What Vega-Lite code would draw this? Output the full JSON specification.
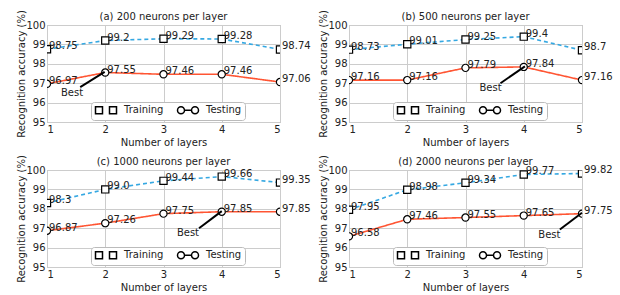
{
  "$schema": "https://vega.github.io/schema/vega-lite/v6.json",
  "padding": {"left": 16, "top": 9, "right": 0, "bottom": 0},
  "bounds": "flush",
  "columns": 2,
  "spacing": {"row": 48, "column": 69},
  "config": {
    "font": "DejaVu Sans",
    "view": {"stroke": "#aaaaaa", "strokeWidth": 1},
    "axis": {"grid": true, "gridColor": "#cccccc", "gridWidth": 1, "domain": false, "ticks": false, "labelFontSize": 10, "labelColor": "#222222", "titleFontSize": 10, "titleFontWeight": "normal", "titleColor": "#222222", "labelPadding": 2},
    "axisX": {"titlePadding": 3},
    "axisY": {"titlePadding": -1},
    "title": {"fontSize": 10, "fontWeight": "normal", "color": "#222222", "offset": -12},
    "legend": {"orient": "none", "legendX": 44, "legendY": 77, "direction": "horizontal", "title": null, "symbolSize": 49, "symbolOffset": 7, "labelOffset": 13, "padding": 3, "strokeColor": "#bbbbbb", "cornerRadius": 3, "fillColor": "white", "labelFontSize": 10, "labelColor": "#222222", "columnPadding": 10}
  },
  "resolve": {"legend": {"shape": "independent"}},
  "datasets": {
    "main": [
      {"panel": "a", "layers": 1, "series": "Training", "acc": 98.75, "label": "98.75"},
      {"panel": "a", "layers": 2, "series": "Training", "acc": 99.2, "label": "99.2"},
      {"panel": "a", "layers": 3, "series": "Training", "acc": 99.29, "label": "99.29"},
      {"panel": "a", "layers": 4, "series": "Training", "acc": 99.28, "label": "99.28"},
      {"panel": "a", "layers": 5, "series": "Training", "acc": 98.74, "label": "98.74"},
      {"panel": "a", "layers": 1, "series": "Testing", "acc": 96.97, "label": "96.97"},
      {"panel": "a", "layers": 2, "series": "Testing", "acc": 97.55, "label": "97.55"},
      {"panel": "a", "layers": 3, "series": "Testing", "acc": 97.46, "label": "97.46"},
      {"panel": "a", "layers": 4, "series": "Testing", "acc": 97.46, "label": "97.46"},
      {"panel": "a", "layers": 5, "series": "Testing", "acc": 97.06, "label": "97.06"},
      {"panel": "b", "layers": 1, "series": "Training", "acc": 98.73, "label": "98.73"},
      {"panel": "b", "layers": 2, "series": "Training", "acc": 99.01, "label": "99.01"},
      {"panel": "b", "layers": 3, "series": "Training", "acc": 99.25, "label": "99.25"},
      {"panel": "b", "layers": 4, "series": "Training", "acc": 99.4, "label": "99.4"},
      {"panel": "b", "layers": 5, "series": "Training", "acc": 98.7, "label": "98.7"},
      {"panel": "b", "layers": 1, "series": "Testing", "acc": 97.16, "label": "97.16"},
      {"panel": "b", "layers": 2, "series": "Testing", "acc": 97.16, "label": "97.16"},
      {"panel": "b", "layers": 3, "series": "Testing", "acc": 97.79, "label": "97.79"},
      {"panel": "b", "layers": 4, "series": "Testing", "acc": 97.84, "label": "97.84"},
      {"panel": "b", "layers": 5, "series": "Testing", "acc": 97.16, "label": "97.16"},
      {"panel": "c", "layers": 1, "series": "Training", "acc": 98.3, "label": "98.3"},
      {"panel": "c", "layers": 2, "series": "Training", "acc": 99.0, "label": "99.0"},
      {"panel": "c", "layers": 3, "series": "Training", "acc": 99.44, "label": "99.44"},
      {"panel": "c", "layers": 4, "series": "Training", "acc": 99.66, "label": "99.66"},
      {"panel": "c", "layers": 5, "series": "Training", "acc": 99.35, "label": "99.35"},
      {"panel": "c", "layers": 1, "series": "Testing", "acc": 96.87, "label": "96.87"},
      {"panel": "c", "layers": 2, "series": "Testing", "acc": 97.26, "label": "97.26"},
      {"panel": "c", "layers": 3, "series": "Testing", "acc": 97.75, "label": "97.75"},
      {"panel": "c", "layers": 4, "series": "Testing", "acc": 97.85, "label": "97.85"},
      {"panel": "c", "layers": 5, "series": "Testing", "acc": 97.85, "label": "97.85"},
      {"panel": "d", "layers": 1, "series": "Training", "acc": 97.95, "label": "97.95"},
      {"panel": "d", "layers": 2, "series": "Training", "acc": 98.98, "label": "98.98"},
      {"panel": "d", "layers": 3, "series": "Training", "acc": 99.34, "label": "99.34"},
      {"panel": "d", "layers": 4, "series": "Training", "acc": 99.77, "label": "99.77"},
      {"panel": "d", "layers": 5, "series": "Training", "acc": 99.82, "label": "99.82"},
      {"panel": "d", "layers": 1, "series": "Testing", "acc": 96.58, "label": "96.58"},
      {"panel": "d", "layers": 2, "series": "Testing", "acc": 97.46, "label": "97.46"},
      {"panel": "d", "layers": 3, "series": "Testing", "acc": 97.55, "label": "97.55"},
      {"panel": "d", "layers": 4, "series": "Testing", "acc": 97.65, "label": "97.65"},
      {"panel": "d", "layers": 5, "series": "Testing", "acc": 97.75, "label": "97.75"}
    ],
    "ann": [
      {"panel": "a", "tx": 1.43, "ty": 96.47, "x1": 1.57, "y1": 96.8, "x2": 1.99, "y2": 97.58, "text": "Best"},
      {"panel": "b", "tx": 3.43, "ty": 96.76, "x1": 3.6, "y1": 97.0, "x2": 4.02, "y2": 97.87, "text": "Best"},
      {"panel": "c", "tx": 3.42, "ty": 96.76, "x1": 3.61, "y1": 97.0, "x2": 4.0, "y2": 97.88, "text": "Best"},
      {"panel": "d", "tx": 4.44, "ty": 96.64, "x1": 4.62, "y1": 96.93, "x2": 5.0, "y2": 97.8, "text": "Best"}
    ]
  },
  "concat": [
    {
      "title": "(a) 200 neurons per layer",
      "width": 233, "height": 97,
      "encoding": {
        "x": {"field": "layers", "type": "quantitative", "scale": {"domain": [1, 5], "nice": false, "zero": false}, "axis": {"values": [1, 2, 3, 4, 5], "title": "Number of layers", "format": "d"}},
        "y": {"field": "acc", "type": "quantitative", "scale": {"domain": [95, 100], "nice": false, "zero": false}, "axis": {"values": [95, 96, 97, 98, 99, 100], "title": "Recognition accuracy (%)", "format": "d"}}
      },
      "layer": [
        {"data": {"name": "main"}, "transform": [{"filter": "datum.panel === 'a'"}], "mark": {"type": "line", "clip": true, "strokeWidth": 1.6},
         "encoding": {"color": {"field": "series", "type": "nominal", "scale": {"domain": ["Training", "Testing"], "range": ["#35a8e2", "#ff5533"]}, "legend": null},
                      "strokeDash": {"field": "series", "type": "nominal", "scale": {"domain": ["Training", "Testing"], "range": [[4, 3], [1, 0]]}, "legend": null}}},
        {"data": {"name": "main"}, "transform": [{"filter": "datum.panel === 'a' && datum.series === 'Training'"}], "mark": {"type": "point", "shape": "square", "clip": true, "filled": true, "fill": "white", "stroke": "black", "strokeWidth": 1.2, "size": 52, "opacity": 1}, "encoding": {}},
        {"data": {"name": "main"}, "transform": [{"filter": "datum.panel === 'a' && datum.series === 'Testing'"}], "mark": {"type": "point", "shape": "circle", "clip": true, "filled": true, "fill": "white", "stroke": "black", "strokeWidth": 1.2, "size": 52, "opacity": 1}, "encoding": {}},
        {"data": {"name": "main"}, "transform": [{"filter": "datum.panel === 'a'"}], "mark": {"type": "point", "filled": true, "fill": "white", "stroke": "black", "strokeWidth": 1.2, "size": 49, "opacity": 0},
         "encoding": {"shape": {"field": "series", "type": "nominal", "scale": {"domain": ["Training", "Testing"], "range": ["M-3,-1H-1V1H-3Z M1,-1H3V1H1Z", "M-3,0A1,1 0 1,1 -1,0A1,1 0 1,1 -3,0Z M1,0A1,1 0 1,1 3,0A1,1 0 1,1 1,0Z M-1,0H1"]},
           "legend": {"encode": {"symbols": {"update": {"fill": {"value": "white"}, "stroke": {"value": "black"}, "strokeWidth": {"value": 1.2}, "opacity": {"value": 1}, "fillOpacity": {"value": 1}, "strokeOpacity": {"value": 1}}}}}}}},
        {"data": {"name": "main"}, "transform": [{"filter": "datum.panel === 'a'"}], "mark": {"type": "text", "align": "left", "baseline": "middle", "dx": 2, "dy": -3, "fontSize": 10, "color": "#222222"},
         "encoding": {"text": {"field": "label", "type": "nominal"}}},
        {"data": {"name": "ann"}, "transform": [{"filter": "datum.panel === 'a'"}], "mark": {"type": "rule", "color": "black", "strokeWidth": 2},
         "encoding": {"x": {"field": "x1", "type": "quantitative"}, "y": {"field": "y1", "type": "quantitative"}, "x2": {"field": "x2"}, "y2": {"field": "y2"}}},
        {"data": {"name": "ann"}, "transform": [{"filter": "datum.panel === 'a'"}], "mark": {"type": "text", "align": "center", "baseline": "middle", "fontSize": 10, "color": "#222222"},
         "encoding": {"x": {"field": "tx", "type": "quantitative"}, "y": {"field": "ty", "type": "quantitative"}, "text": {"field": "text", "type": "nominal"}}}
      ]
    },
    {
      "title": "(b) 500 neurons per layer",
      "width": 233, "height": 97,
      "encoding": {
        "x": {"field": "layers", "type": "quantitative", "scale": {"domain": [1, 5], "nice": false, "zero": false}, "axis": {"values": [1, 2, 3, 4, 5], "title": "Number of layers", "format": "d"}},
        "y": {"field": "acc", "type": "quantitative", "scale": {"domain": [95, 100], "nice": false, "zero": false}, "axis": {"values": [95, 96, 97, 98, 99, 100], "title": "Recognition accuracy (%)", "format": "d"}}
      },
      "layer": [
        {"data": {"name": "main"}, "transform": [{"filter": "datum.panel === 'b'"}], "mark": {"type": "line", "clip": true, "strokeWidth": 1.6},
         "encoding": {"color": {"field": "series", "type": "nominal", "scale": {"domain": ["Training", "Testing"], "range": ["#35a8e2", "#ff5533"]}, "legend": null},
                      "strokeDash": {"field": "series", "type": "nominal", "scale": {"domain": ["Training", "Testing"], "range": [[4, 3], [1, 0]]}, "legend": null}}},
        {"data": {"name": "main"}, "transform": [{"filter": "datum.panel === 'b' && datum.series === 'Training'"}], "mark": {"type": "point", "shape": "square", "clip": true, "filled": true, "fill": "white", "stroke": "black", "strokeWidth": 1.2, "size": 52, "opacity": 1}, "encoding": {}},
        {"data": {"name": "main"}, "transform": [{"filter": "datum.panel === 'b' && datum.series === 'Testing'"}], "mark": {"type": "point", "shape": "circle", "clip": true, "filled": true, "fill": "white", "stroke": "black", "strokeWidth": 1.2, "size": 52, "opacity": 1}, "encoding": {}},
        {"data": {"name": "main"}, "transform": [{"filter": "datum.panel === 'b'"}], "mark": {"type": "point", "filled": true, "fill": "white", "stroke": "black", "strokeWidth": 1.2, "size": 49, "opacity": 0},
         "encoding": {"shape": {"field": "series", "type": "nominal", "scale": {"domain": ["Training", "Testing"], "range": ["M-3,-1H-1V1H-3Z M1,-1H3V1H1Z", "M-3,0A1,1 0 1,1 -1,0A1,1 0 1,1 -3,0Z M1,0A1,1 0 1,1 3,0A1,1 0 1,1 1,0Z M-1,0H1"]},
           "legend": {"encode": {"symbols": {"update": {"fill": {"value": "white"}, "stroke": {"value": "black"}, "strokeWidth": {"value": 1.2}, "opacity": {"value": 1}, "fillOpacity": {"value": 1}, "strokeOpacity": {"value": 1}}}}}}}},
        {"data": {"name": "main"}, "transform": [{"filter": "datum.panel === 'b'"}], "mark": {"type": "text", "align": "left", "baseline": "middle", "dx": 2, "dy": -3, "fontSize": 10, "color": "#222222"},
         "encoding": {"text": {"field": "label", "type": "nominal"}}},
        {"data": {"name": "ann"}, "transform": [{"filter": "datum.panel === 'b'"}], "mark": {"type": "rule", "color": "black", "strokeWidth": 2},
         "encoding": {"x": {"field": "x1", "type": "quantitative"}, "y": {"field": "y1", "type": "quantitative"}, "x2": {"field": "x2"}, "y2": {"field": "y2"}}},
        {"data": {"name": "ann"}, "transform": [{"filter": "datum.panel === 'b'"}], "mark": {"type": "text", "align": "center", "baseline": "middle", "fontSize": 10, "color": "#222222"},
         "encoding": {"x": {"field": "tx", "type": "quantitative"}, "y": {"field": "ty", "type": "quantitative"}, "text": {"field": "text", "type": "nominal"}}}
      ]
    },
    {
      "title": "(c) 1000 neurons per layer",
      "width": 233, "height": 97,
      "encoding": {
        "x": {"field": "layers", "type": "quantitative", "scale": {"domain": [1, 5], "nice": false, "zero": false}, "axis": {"values": [1, 2, 3, 4, 5], "title": "Number of layers", "format": "d"}},
        "y": {"field": "acc", "type": "quantitative", "scale": {"domain": [95, 100], "nice": false, "zero": false}, "axis": {"values": [95, 96, 97, 98, 99, 100], "title": "Recognition accuracy (%)", "format": "d"}}
      },
      "layer": [
        {"data": {"name": "main"}, "transform": [{"filter": "datum.panel === 'c'"}], "mark": {"type": "line", "clip": true, "strokeWidth": 1.6},
         "encoding": {"color": {"field": "series", "type": "nominal", "scale": {"domain": ["Training", "Testing"], "range": ["#35a8e2", "#ff5533"]}, "legend": null},
                      "strokeDash": {"field": "series", "type": "nominal", "scale": {"domain": ["Training", "Testing"], "range": [[4, 3], [1, 0]]}, "legend": null}}},
        {"data": {"name": "main"}, "transform": [{"filter": "datum.panel === 'c' && datum.series === 'Training'"}], "mark": {"type": "point", "shape": "square", "clip": true, "filled": true, "fill": "white", "stroke": "black", "strokeWidth": 1.2, "size": 52, "opacity": 1}, "encoding": {}},
        {"data": {"name": "main"}, "transform": [{"filter": "datum.panel === 'c' && datum.series === 'Testing'"}], "mark": {"type": "point", "shape": "circle", "clip": true, "filled": true, "fill": "white", "stroke": "black", "strokeWidth": 1.2, "size": 52, "opacity": 1}, "encoding": {}},
        {"data": {"name": "main"}, "transform": [{"filter": "datum.panel === 'c'"}], "mark": {"type": "point", "filled": true, "fill": "white", "stroke": "black", "strokeWidth": 1.2, "size": 49, "opacity": 0},
         "encoding": {"shape": {"field": "series", "type": "nominal", "scale": {"domain": ["Training", "Testing"], "range": ["M-3,-1H-1V1H-3Z M1,-1H3V1H1Z", "M-3,0A1,1 0 1,1 -1,0A1,1 0 1,1 -3,0Z M1,0A1,1 0 1,1 3,0A1,1 0 1,1 1,0Z M-1,0H1"]},
           "legend": {"encode": {"symbols": {"update": {"fill": {"value": "white"}, "stroke": {"value": "black"}, "strokeWidth": {"value": 1.2}, "opacity": {"value": 1}, "fillOpacity": {"value": 1}, "strokeOpacity": {"value": 1}}}}}}}},
        {"data": {"name": "main"}, "transform": [{"filter": "datum.panel === 'c'"}], "mark": {"type": "text", "align": "left", "baseline": "middle", "dx": 2, "dy": -3, "fontSize": 10, "color": "#222222"},
         "encoding": {"text": {"field": "label", "type": "nominal"}}},
        {"data": {"name": "ann"}, "transform": [{"filter": "datum.panel === 'c'"}], "mark": {"type": "rule", "color": "black", "strokeWidth": 2},
         "encoding": {"x": {"field": "x1", "type": "quantitative"}, "y": {"field": "y1", "type": "quantitative"}, "x2": {"field": "x2"}, "y2": {"field": "y2"}}},
        {"data": {"name": "ann"}, "transform": [{"filter": "datum.panel === 'c'"}], "mark": {"type": "text", "align": "center", "baseline": "middle", "fontSize": 10, "color": "#222222"},
         "encoding": {"x": {"field": "tx", "type": "quantitative"}, "y": {"field": "ty", "type": "quantitative"}, "text": {"field": "text", "type": "nominal"}}}
      ]
    },
    {
      "title": "(d) 2000 neurons per layer",
      "width": 233, "height": 97,
      "encoding": {
        "x": {"field": "layers", "type": "quantitative", "scale": {"domain": [1, 5], "nice": false, "zero": false}, "axis": {"values": [1, 2, 3, 4, 5], "title": "Number of layers", "format": "d"}},
        "y": {"field": "acc", "type": "quantitative", "scale": {"domain": [95, 100], "nice": false, "zero": false}, "axis": {"values": [95, 96, 97, 98, 99, 100], "title": "Recognition accuracy (%)", "format": "d"}}
      },
      "layer": [
        {"data": {"name": "main"}, "transform": [{"filter": "datum.panel === 'd'"}], "mark": {"type": "line", "clip": true, "strokeWidth": 1.6},
         "encoding": {"color": {"field": "series", "type": "nominal", "scale": {"domain": ["Training", "Testing"], "range": ["#35a8e2", "#ff5533"]}, "legend": null},
                      "strokeDash": {"field": "series", "type": "nominal", "scale": {"domain": ["Training", "Testing"], "range": [[4, 3], [1, 0]]}, "legend": null}}},
        {"data": {"name": "main"}, "transform": [{"filter": "datum.panel === 'd' && datum.series === 'Training'"}], "mark": {"type": "point", "shape": "square", "clip": true, "filled": true, "fill": "white", "stroke": "black", "strokeWidth": 1.2, "size": 52, "opacity": 1}, "encoding": {}},
        {"data": {"name": "main"}, "transform": [{"filter": "datum.panel === 'd' && datum.series === 'Testing'"}], "mark": {"type": "point", "shape": "circle", "clip": true, "filled": true, "fill": "white", "stroke": "black", "strokeWidth": 1.2, "size": 52, "opacity": 1}, "encoding": {}},
        {"data": {"name": "main"}, "transform": [{"filter": "datum.panel === 'd'"}], "mark": {"type": "point", "filled": true, "fill": "white", "stroke": "black", "strokeWidth": 1.2, "size": 49, "opacity": 0},
         "encoding": {"shape": {"field": "series", "type": "nominal", "scale": {"domain": ["Training", "Testing"], "range": ["M-3,-1H-1V1H-3Z M1,-1H3V1H1Z", "M-3,0A1,1 0 1,1 -1,0A1,1 0 1,1 -3,0Z M1,0A1,1 0 1,1 3,0A1,1 0 1,1 1,0Z M-1,0H1"]},
           "legend": {"encode": {"symbols": {"update": {"fill": {"value": "white"}, "stroke": {"value": "black"}, "strokeWidth": {"value": 1.2}, "opacity": {"value": 1}, "fillOpacity": {"value": 1}, "strokeOpacity": {"value": 1}}}}}}}},
        {"data": {"name": "main"}, "transform": [{"filter": "datum.panel === 'd'"}], "mark": {"type": "text", "align": "left", "baseline": "middle", "dx": 2, "dy": -3, "fontSize": 10, "color": "#222222"},
         "encoding": {"text": {"field": "label", "type": "nominal"}}},
        {"data": {"name": "ann"}, "transform": [{"filter": "datum.panel === 'd'"}], "mark": {"type": "rule", "color": "black", "strokeWidth": 2},
         "encoding": {"x": {"field": "x1", "type": "quantitative"}, "y": {"field": "y1", "type": "quantitative"}, "x2": {"field": "x2"}, "y2": {"field": "y2"}}},
        {"data": {"name": "ann"}, "transform": [{"filter": "datum.panel === 'd'"}], "mark": {"type": "text", "align": "center", "baseline": "middle", "fontSize": 10, "color": "#222222"},
         "encoding": {"x": {"field": "tx", "type": "quantitative"}, "y": {"field": "ty", "type": "quantitative"}, "text": {"field": "text", "type": "nominal"}}}
      ]
    }
  ]
}
